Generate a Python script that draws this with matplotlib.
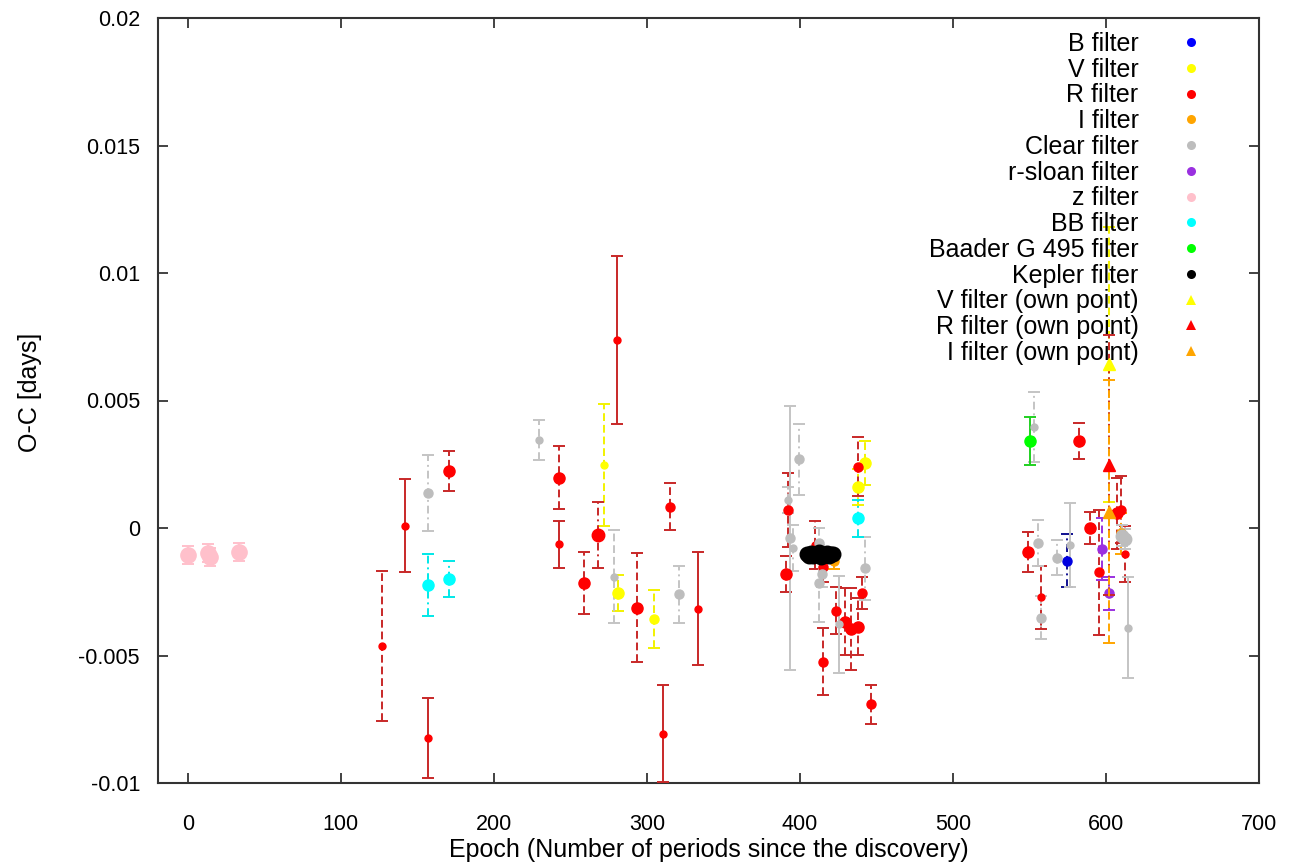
import matplotlib
matplotlib.use("Agg")
import matplotlib.pyplot as plt
from matplotlib.lines import Line2D

# ---------------- data (O-C in days) ----------------
# B filter
b_x = [574.3]
b_y = [-0.00128]
b_err = [0.00103]

# V filter
v_x = [272.0, 281.3, 304.4, 442.5, 438.1]
v_y = [0.00247, -0.00256, -0.00357, 0.00256, 0.00162]
v_err = [0.00240, 0.00070, 0.00113, 0.00087, 0.00070]

# R filter
r_x = [127.0, 142.0, 170.4, 157.0, 242.3, 242.3, 268.2, 259.0, 293.5, 315.0,
       280.4, 333.1, 310.2, 390.8, 392.4, 410.0, 414.8, 414.8, 423.5, 429.4,
       433.3, 438.1, 440.3, 446.4, 438.1, 582.6, 548.8, 557.5, 589.5, 595.6,
       607.3, 610.0, 612.4]
r_y = [-0.00463, 0.00009, 0.00224, -0.00825, 0.00197, -0.00064, -0.00027, -0.00217, -0.00312, 0.00084,
       0.00737, -0.00316, -0.00807, -0.00180, 0.00071, -0.00067, -0.00152, -0.00524, -0.00324, -0.00367,
       -0.00397, -0.00387, -0.00256, -0.00692, 0.00240, 0.00341, -0.00095, -0.00272, -0.00001, -0.00174,
       0.00058, 0.00072, -0.00102]
r_err = [0.00295, 0.00183, 0.00078, 0.00157, 0.00124, 0.00092, 0.00130, 0.00122, 0.00213, 0.00092,
         0.00329, 0.00221, 0.00190, 0.00070, 0.00145, 0.00095, 0.00060, 0.00131, 0.00092, 0.00131,
         0.00160, 0.00112, 0.00063, 0.00077, 0.00116, 0.00070, 0.00078, 0.00124, 0.00063, 0.00245,
         0.00140, 0.00130, 0.00109]

# I filter
i_x = [422.5, 609.7]
i_y = [-0.00130, -0.00020]
i_err = [0.00030, 0.00080]

# Clear filter
c_x = [157.0, 229.6, 278.2, 321.1, 393.5, 395.6, 392.4, 399.5, 412.6, 414.1,
       412.6, 425.3, 442.5, 552.7, 555.8, 557.5, 567.8, 576.7, 612.4, 610.5, 614.6]
c_y = [0.00138, 0.00345, -0.00191, -0.00260, -0.00040, -0.00080, 0.00110, 0.00269, -0.00060, -0.00180,
       -0.00217, -0.00378, -0.00158, 0.00397, -0.00060, -0.00352, -0.00116, -0.00067, -0.00044, -0.00030, -0.00391]
c_err = [0.00150, 0.00080, 0.00182, 0.00111, 0.00517, 0.00090, 0.00050, 0.00140, 0.00060, 0.00050,
         0.00150, 0.00190, 0.00124, 0.00137, 0.00090, 0.00085, 0.00070, 0.00164, 0.00040, 0.00040, 0.00197]

# r-sloan filter
rs_x = [597.4, 601.8]
rs_y = [-0.00082, -0.00256]
rs_err = [0.00120, 0.00065]

# z filter
z_x = [0.0, 13.0, 14.5, 33.5]
z_y = [-0.00106, -0.00098, -0.00114, -0.00093]
z_err = [0.00035, 0.00035, 0.00035, 0.00035]

# BB filter
bb_x = [157.0, 170.4, 438.1]
bb_y = [-0.00224, -0.00201, 0.00038]
bb_err = [0.00123, 0.00070, 0.00072]

# Baader G 495 filter
g_x = [550.5]
g_y = [0.00341]
g_err = [0.00094]

# Kepler filter
k_x = [404.5, 405.8, 407.1, 408.4, 409.7, 411.0, 412.3, 413.6, 414.9, 416.2, 417.5, 418.8, 420.1, 421.4]
k_y = [-0.00102, -0.00108, -0.00098, -0.00110, -0.00100, -0.00106, -0.00096, -0.00112, -0.00101, -0.00107,
       -0.00099, -0.00109, -0.00103, -0.00100]
k_err = [0.00010] * 14

# own points
vo_x = [601.8]; vo_y = [0.00642]; vo_err = [0.00540]
ro_x = [601.8]; ro_y = [0.00247]; ro_err = [0.00510]
io_x = [601.8]; io_y = [0.00064]; io_err = [0.00516]

legend_labels = ["B filter", "V filter", "R filter", "I filter", "Clear filter", "r-sloan filter",
                 "z filter", "BB filter", "Baader G 495 filter", "Kepler filter",
                 "V filter (own point)", "R filter (own point)", "I filter (own point)"]

x_ticks = [0, 100, 200, 300, 400, 500, 600, 700]
y_ticks = [-0.01, -0.005, 0.0, 0.005, 0.01, 0.015, 0.02]
y_tick_labels = ["-0.01", "-0.005", "0", "0.005", "0.01", "0.015", "0.02"]

# ---------------- styles (per point marker size class / bar line style) ----------------
b_sz = ["m"]; b_ls = ["-."]
v_sz = ["s", "l", "m", "l", "l"]; v_ls = ["--"] * 5
r_sz = ["s", "s", "l", "s", "l", "s", "xl", "l", "l", "m",
        "s", "s", "s", "l", "m", "s", "m", "m", "m", "l",
        "l", "l", "m", "m", "m", "l", "l", "s", "l", "m",
        "l", "m", "s"]
r_ls = ["--", "-", "--", "-", "--", "-", "-.", "--", "--", "--",
        "-", "-", "-", "--", "--", "--", "--", "--", "--", "--",
        "--", "--", "--", "--", "--", "--", "--", "--", "--", "--",
        "--", "--", "--"]
i_sz = ["m", "m"]; i_ls = ["--", "--"]
c_sz = ["m", "s", "s", "m", "m", "s", "s", "m", "m", "m",
        "m", "s", "m", "s", "m", "m", "m", "s", "xl", "xl", "s"]
c_ls = ["-.", "--", "--", "-.", "-", "-.", "--", "-.", "--", "--",
        "--", "-", "-.", "-.", "-.", "-.", "-.", "-", "-", "-", "-"]
rs_sz = ["m", "m"]; rs_ls = ["--", "--"]
z_sz = ["z"] * 4; z_ls = ["-"] * 4
bb_sz = ["l", "l", "l"]; bb_ls = ["-.", "-.", "-."]
g_sz = ["l"]; g_ls = ["-"]
k_sz = ["k"] * 14; k_ls = ["-"] * 14

MS = {"s": 5.0, "m": 6.5, "l": 8.0, "xl": 9.0, "z": 11.0, "k": 10.5}
LS = {"-": "-", "--": (0, (4, 2)), "-.": (0, (4, 2, 1, 2))}

plt.rcParams["font.family"] = ["Liberation Sans", "DejaVu Sans"]

fig = plt.figure(figsize=(13.04, 8.68), dpi=100)
ax = fig.add_axes([158 / 1304, 1 - 783 / 868, 1101 / 1304, 765 / 868])


def draw(xs, ys, errs, sizes, styles, mcol, ecol, marker="o", z=3):
    for x, y, e, s, ls in zip(xs, ys, errs, sizes, styles):
        _, caps, bars = ax.errorbar([x], [y], yerr=[e], fmt=marker, ms=MS[s], mfc=mcol, mec=mcol,
                                    ecolor=ecol, elinewidth=1.4, capsize=4, capthick=1.4,
                                    zorder=z)
        bars[0].set_linestyle(LS[ls])
        for c in caps:
            c.set_markeredgewidth(1.4)
            c.set_color(ecol)


draw(b_x, b_y, b_err, b_sz, b_ls, "#0000e0", "#101090")
draw(v_x, v_y, v_err, v_sz, v_ls, "#ffff00", "#f2f200")
draw(r_x, r_y, r_err, r_sz, r_ls, "#ff0000", "#c82828")
draw(i_x, i_y, i_err, i_sz, i_ls, "#ffa500", "#ffa500")
draw(c_x, c_y, c_err, c_sz, c_ls, "#bdbdbd", "#c4c4c4")
draw(rs_x, rs_y, rs_err, rs_sz, rs_ls, "#9a30e0", "#9a30e0")
draw(z_x, z_y, z_err, z_sz, z_ls, "#ffc0cb", "#ffc0cb")
draw(bb_x, bb_y, bb_err, bb_sz, bb_ls, "#00ffff", "#00e8e8")
draw(g_x, g_y, g_err, g_sz, g_ls, "#00ff00", "#20d020")
draw(k_x, k_y, k_err, k_sz, k_ls, "#000000", "#000000", z=4)
draw(vo_x, vo_y, vo_err, ["l"], ["--"], "#ffff00", "#f2f200", marker="^", z=5)
draw(ro_x, ro_y, ro_err, ["l"], ["--"], "#ff0000", "#c82828", marker="^", z=5)
draw(io_x, io_y, io_err, ["l"], ["--"], "#ffa500", "#ffa500", marker="^", z=5)

ax.set_xlim(-19.5, 700)
ax.set_ylim(-0.01, 0.02)
ax.set_xticks(x_ticks)
ax.set_xticklabels([str(t) for t in x_ticks])
ax.set_yticks(y_ticks)
ax.set_yticklabels(y_tick_labels)
ax.tick_params(axis="both", direction="in", length=7, width=1.2, top=True, right=True,
               labelsize=15.5, color="#222222")
ax.tick_params(axis="y", pad=13)
ax.tick_params(axis="x", pad=22)
for sp in ax.spines.values():
    sp.set_linewidth(1.5)
    sp.set_color("#333333")

ax.set_xlabel("Epoch (Number of periods since the discovery)", fontsize=18)
ax.set_ylabel("O-C [days]", fontsize=18)
ax.xaxis.set_label_coords(0.5, -0.072)
ax.yaxis.set_label_coords(-0.105, 0.51)

leg_cols = ["#0000ff", "#ffff00", "#ff0000", "#ffa500", "#bdbdbd", "#9a30e0", "#ffc0cb",
            "#00ffff", "#00ff00", "#000000", "#ffff00", "#ff0000", "#ffa500"]
leg_mk = ["o"] * 10 + ["^"] * 3
handles = [Line2D([], [], ls="none", marker=m, color=c, ms=6.5, mew=0) for m, c in zip(leg_mk, leg_cols)]
ax.legend(handles, legend_labels, loc="upper right", bbox_to_anchor=(0.961, 0.9817),
          frameon=False, markerfirst=False, fontsize=18, handlelength=2, handletextpad=1.1,
          labelspacing=0.07, borderpad=0, borderaxespad=0)

fig.savefig("out.png", dpi=100)
